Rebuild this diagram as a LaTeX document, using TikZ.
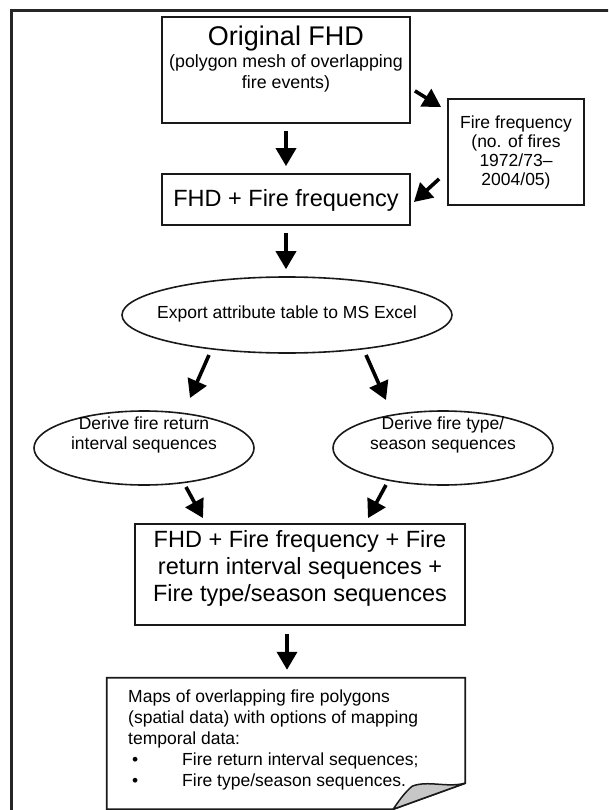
\documentclass[tikz,border=0pt]{standalone}
\usepackage{fontspec}
\setmainfont{Liberation Sans}
\usetikzlibrary{arrows.meta,shapes.geometric,calc}
\begin{document}
\begin{tikzpicture}[x=1pt,y=-1pt,
  box/.style={draw=black!90,line width=1.8pt,rectangle,inner sep=0pt},
  oval/.style={draw=black!90,line width=1.6pt,ellipse,inner sep=0pt},
  txt/.style={inner sep=0pt,align=center,font=\fontsize{17.5}{20}\selectfont},
  bigtxt/.style={inner sep=0pt,align=center,font=\fontsize{23.5}{27}\selectfont},
  arr/.style={line width=3.6pt,-{Triangle[length=18pt,width=20pt]}}]
\useasboundingbox (0,0) rectangle (608,810);
\clip (0,0) rectangle (608,810);
\draw[line width=2.2pt,black!85] (11.5,10.5) rectangle (650,850);

% Original FHD
\node[box,minimum width=248pt,minimum height=106pt] (orig) at (286,70) {};
\node[inner sep=0pt,anchor=base,font=\fontsize{27}{30}\selectfont] (origT) at (286,46) {Original FHD};
\node[txt,anchor=north,font=\fontsize{17.8}{20.5}\selectfont] (origS) at (286,54.5) {(polygon mesh of overlapping\\fire events)};

% Fire frequency
\node[box,minimum width=136pt,minimum height=106pt] (ff) at (516,152) {};
\node[txt,font=\fontsize{17.5}{19}\selectfont] (ffT) at (516,152) {Fire frequency\\(no. of fires\\1972/73--\\2004/05)};

% FHD + Fire frequency
\node[box,minimum width=248pt,minimum height=51pt] (fhdff) at (286,199.5) {};
\node[bigtxt] (fhdffT) at (286,200) {FHD + Fire frequency};

% Export ellipse
\node[oval,minimum width=330pt,minimum height=76pt] (exp) at (287,315) {};
\node[txt] (expT) at (287,314) {Export attribute table to MS Excel};

% Derive ellipses
\node[oval,minimum width=220pt,minimum height=74pt] (left) at (144,448) {};
\node[txt,anchor=north] (leftT) at (144,417) {Derive fire return\\interval sequences};
\node[oval,minimum width=220pt,minimum height=74pt] (right) at (443,448) {};
\node[txt,anchor=north] (rightT) at (443,417) {Derive fire type/\\season sequences};

% Big box
\node[box,minimum width=330pt,minimum height=101pt] (bigb) at (300,574.5) {};
\node[bigtxt,anchor=north] (bigT) at (300,530.5) {FHD + Fire frequency + Fire\\return interval sequences +\\Fire type/season sequences};

% Final note with folded corner
\node[inner sep=0pt,minimum width=358pt,minimum height=131pt] (fin) at (286,743.5) {};
\coordinate (fA) at ($(fin.south east)+(-53,-23)$);
\coordinate (fB) at ($(fin.south east)+(0,-26)$);
\coordinate (fC) at ($(fin.south east)+(-72,0)$);
\draw[draw=black!90,line width=1.8pt,line join=miter] (fin.north west) -- (fin.north east) -- (fB) -- (fC) -- (fin.south west) -- cycle;
\filldraw[fill=black!22,draw=black!90,line width=1.5pt] (fA) .. controls (428,780) and (446,788) .. (fB) -- (fC) .. controls (398,802) and (405,792) .. (fA) -- cycle;
\node[inner sep=0pt,anchor=north west,align=left,font=\fontsize{17.5}{21}\selectfont] (finT) at (128,690) {Maps of overlapping fire polygons\\(spatial data) with options of mapping\\temporal data:\\\hspace*{4pt}\makebox[50pt][l]{•}Fire return interval sequences;\\\hspace*{4pt}\makebox[50pt][l]{•}Fire type/season sequences.};

% Arrows
\draw[arr] ($(orig.south east)+(4,-33)$) -- ($(ff.north west)+(-6,9)$);
\draw[arr] ($(ff.south west)+(-8,-27)$) -- ($(fhdff.east)+(3,2.5)$);
\draw[arr] ($(orig.south)+(0,7)$) -- ($(fhdff.north)+(0,-7)$);
\draw[arr] ($(fhdff.south)+(0,7)$) -- ($(exp.north)+(-1,-7)$);
\draw[arr] ($(exp.center)+(-78,40)$) -- ($(left.center)+(46,-50)$);
\draw[arr] ($(exp.center)+(79,40)$) -- ($(right.center)+(-57,-48)$);
\draw[arr] ($(left.center)+(42,39)$) -- ($(bigb.north)+(-97,-5)$);
\draw[arr] ($(right.center)+(-57,37)$) -- ($(bigb.north)+(68,-5)$);
\draw[arr] ($(bigb.south)+(-13,8)$) -- ($(fin.north)+(1,-8)$);
\end{tikzpicture}
\end{document}
